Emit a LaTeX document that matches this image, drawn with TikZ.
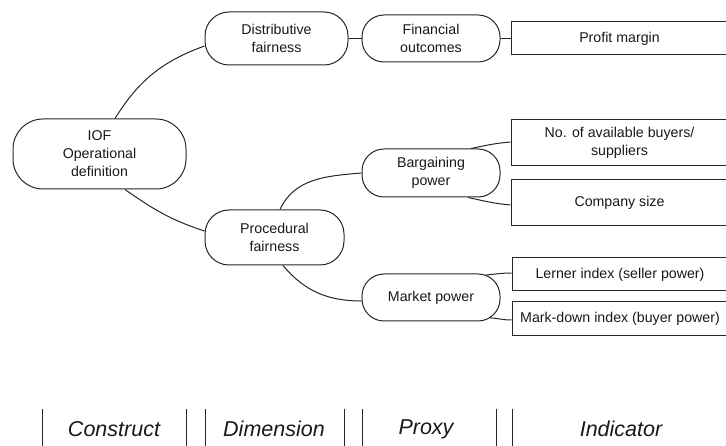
\documentclass[tikz,border=0pt]{standalone}
\usepackage{fontspec}
\setmainfont{Liberation Sans}
\usetikzlibrary{calc}
\begin{document}
\begin{tikzpicture}[x=1pt,y=1pt,
  every node/.style={font=\fontsize{14.2}{18}\selectfont, text=black!90},
  link/.style={draw=black!85, line width=1pt},
  pill/.style={draw=black!85, line width=1pt, rounded corners=#1, align=center, inner sep=0pt},
  pill/.default=22pt,
  ibox/.style={draw=black!85, line width=1pt, align=center, inner sep=0pt, minimum width=217pt},
  axislabel/.style={font=\fontsize{21.5}{24}\selectfont\itshape},
  divider/.style={draw=black!85, line width=1pt}]
\useasboundingbox (0,0) rectangle (726,-446);

% construct
\node[pill=30pt, minimum width=173pt, minimum height=70pt] (iof) at (99.5,-154) {IOF\\Operational\\definition};

% dimensions
\node[pill=24pt, minimum width=143pt, minimum height=53pt] (dist) at (276.5,-38.5) {Distributive\\fairness};
\node[pill=24pt, minimum width=139pt, minimum height=55pt] (proc) at (274.5,-237.5) {Procedural\\fairness};

% proxies
\node[pill, minimum width=138pt, minimum height=47pt] (fin) at (431,-38.5) {Financial\\outcomes};
\node[pill, minimum width=138pt, minimum height=48pt] (barg) at (431,-173) {Bargaining\\power};
\node[pill, minimum width=138pt, minimum height=47pt] (mkt) at (431,-297.5) {Market power};

% indicators
\node[ibox, minimum height=33pt] (profit) at (619.5,-38.5) {Profit margin};
\node[ibox, minimum height=46pt] (buyers) at (619.5,-143) {No. of available buyers/\\suppliers};
\node[ibox, minimum height=46pt] (size) at (619.5,-203) {Company size};
\node[ibox, minimum height=33pt, minimum width=216pt] (lerner) at (620,-274.5) {Lerner index (seller power)};
\node[ibox, minimum height=34pt, minimum width=216pt] (markdown) at (620,-319) {Mark-down index (buyer power)};

% connectors
\draw[link] ([xshift=15.5pt]iof.north) to[out=58,in=200] ([yshift=-7.5pt]dist.west);
\draw[link] ([xshift=25.5pt]iof.south) to[out=-35,in=162] ([yshift=6.5pt]proc.west);
\draw[link] (dist.east) -- (fin.west);
\draw[link] (fin.east) -- (profit.west);
\draw[link] ([xshift=5.5pt]proc.north) to[out=65,in=185] (barg.west);
\draw[link] ([xshift=8.5pt]proc.south) to[out=-50,in=180] ([yshift=-3.5pt]mkt.west);
\draw[link] ([xshift=40pt]barg.north) to[out=12,in=185] ([yshift=1pt]buyers.west);
\draw[link] ([xshift=37pt]barg.south) to[out=-12,in=175] ([yshift=-2pt]size.west);
\draw[link] ([xshift=55pt,yshift=-1.5pt]mkt.north) to[out=5,in=180] ([yshift=1.5pt]lerner.west);
\draw[link] ([xshift=59pt,yshift=3.6pt]mkt.south) to[out=-3,in=180] ([yshift=-1pt]markdown.west);

% level labels
\node[axislabel] (lconstruct) at (114,-429) {Construct};
\node[axislabel] (ldimension) at (274,-429) {Dimension};
\node[axislabel] (lproxy) at (426,-429) {Proxy};
\node[axislabel] (lindicator) at (621,-429) {Indicator};
\foreach \bx in {42,186,205,344,362,496,512}
  \draw[divider] (\bx,-409) -- (\bx,-446);
\end{tikzpicture}
\end{document}
